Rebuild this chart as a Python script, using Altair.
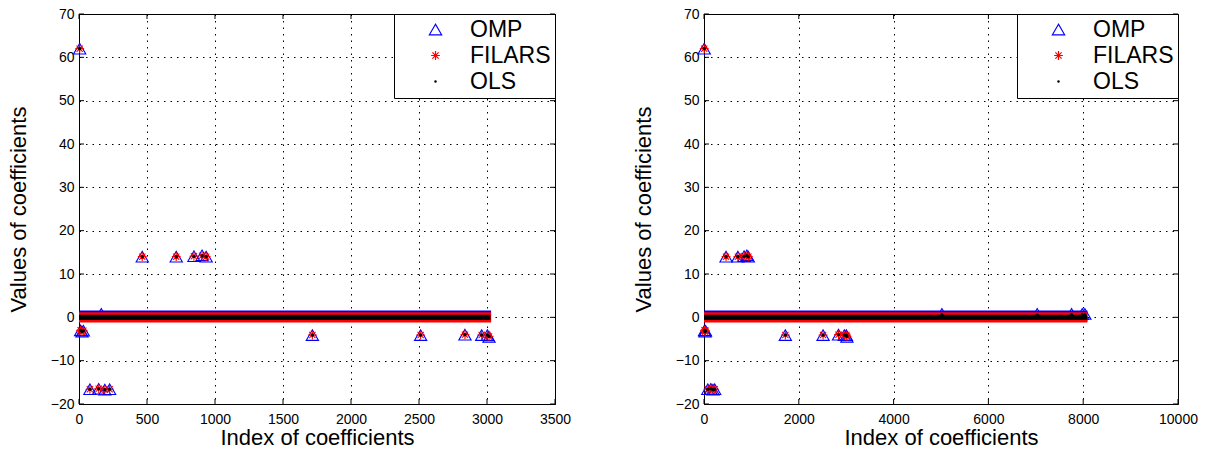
import altair as alt
import pandas as pd

# ---------------- data ----------------
methods = ["OMP", "FILARS", "OLS"]
method_colors = ["#0000ff", "#ff0000", "#000000"]

# large (non-zero) coefficients, same support in both experiments
big_idx = [5, 12, 22, 32, 80, 145, 190, 225, 465, 715, 845, 905, 935,
           1716, 2512, 2838, 2961, 3003, 3015]
omp_big = [62.0, -3.0, -3.3, -3.1, -16.6, -16.5, -16.7, -16.6, 14.0, 14.0,
           14.1, 14.3, 14.0, -4.1, -4.1, -4.0, -4.1, -4.1, -4.5]
filars_big = [62.0, -3.0, -3.3, -3.1, -16.6, -16.5, -16.7, -16.6, 14.0, 14.0,
              14.1, 14.2, 14.0, -4.1, -4.1, -4.0, -4.1, -4.1, -4.4]
ols_big = [62.0, -3.0, -3.3, -3.1, -16.6, -16.5, -16.7, -16.6, 14.0, 14.0,
           14.1, 14.2, 14.0, -4.1, -4.1, -4.0, -4.1, -4.1, -4.4]

# small isolated coefficients just above the zero band
left_small_idx = [164]
left_small_omp = [0.8]
left_small_ols = []
right_small_idx = [5020, 7030, 7755, 7980, 8035]
right_small_omp = [0.8, 0.8, 0.8, 0.8, 0.8]
right_small_ols = [0.6, 0.5, 0.6, 0.6, 0.6]

# dense band of near-zero coefficients (extent of each method's markers)
band_start = [0, 0, 0]
left_band_end = [3030, 3030, 3025]
right_band_end = [8090, 8085, 8080]
band_low = [-1.0, -1.2, -0.6]
band_high = [1.55, 1.15, 0.6]

y_ticks = [-20, -10, 0, 10, 20, 30, 40, 50, 60, 70]
left_x_ticks = [0, 500, 1000, 1500, 2000, 2500, 3000, 3500]
right_x_ticks = [0, 2000, 4000, 6000, 8000, 10000]

# ---------------- styling ----------------
FONT = "Liberation Sans"
AST = ("M0,-0.72L0,0.72M-0.72,0L0.72,0"
       "M-0.51,-0.51L0.51,0.51M-0.51,0.51L0.51,-0.51")
DOT = "M-0.11,0A0.11,0.11,0,1,1,0.11,0A0.11,0.11,0,1,1,-0.11,0Z"
shapes = ["triangle-up", AST, DOT]
SYM = 150
H = 390


def method_rows(m, small_idx, small_omp, small_ols):
    if m == "OMP":
        idx, val = big_idx + small_idx, omp_big + small_omp
    elif m == "FILARS":
        idx, val = big_idx, filars_big
    else:
        idx, val = big_idx + small_idx[:len(small_ols)], ols_big + small_ols
    return pd.DataFrame({"idx": idx, "value": val, "method": [m] * len(idx)})


def panel(xmax, x_ticks, width, band_end, small_idx, small_omp, small_ols):
    xs = alt.Scale(domain=[0, xmax], nice=False, zero=False)
    ys = alt.Scale(domain=[-20, 70], nice=False, zero=False)
    xax = alt.Axis(values=x_ticks, title="Index of coefficients", format="d",
                   labelFlush=False, ticks=False, labelPadding=8, titlePadding=1)
    yax = alt.Axis(values=y_ticks, title="Values of coefficients",
                   labelFlush=False, ticks=False, labelPadding=5, titlePadding=20)
    X = alt.X("idx:Q", scale=xs, axis=xax)
    Y = alt.Y("value:Q", scale=ys, axis=yax)

    color = alt.Color("method:N", scale=alt.Scale(domain=methods, range=method_colors),
                      legend=alt.Legend(title=None, orient="top-right", offset=0,
                                        padding=4, symbolOffset=26, labelOffset=23,
                                        rowPadding=2, labelFontSize=23, labelFont=FONT,
                                        labelColor="black", fillColor="white",
                                        strokeColor="black", symbolSize=SYM,
                                        symbolStrokeWidth=1.2))
    shape = alt.Shape("method:N", scale=alt.Scale(domain=methods, range=shapes))

    layers = []
    for k, m in enumerate(methods):
        band = pd.DataFrame({"idx": [band_start[k]], "idx2": [band_end[k]],
                             "value": [band_low[k]], "value2": [band_high[k]]})
        layers.append(alt.Chart(band).mark_rect(fill=method_colors[k]).encode(
            x=X, x2="idx2:Q", y=Y, y2="value2:Q"))
        layers.append(alt.Chart(method_rows(m, small_idx, small_omp, small_ols)).mark_point(
            filled=False, strokeWidth=1.1, opacity=1, size=SYM
        ).encode(x=X, y=Y, color=color, shape=shape))

    # solid centre of the OLS dots
    layers.append(alt.Chart(method_rows("OLS", small_idx, small_omp, small_ols)).mark_circle(
        color="black", opacity=1, size=10).encode(x=X, y=Y))

    tick_y = pd.DataFrame({"value": y_ticks})
    tick_x = pd.DataFrame({"idx": x_ticks})
    layers += [
        alt.Chart(tick_y).mark_rule(color="black", strokeWidth=1).encode(
            y=Y, x=alt.value(0), x2=alt.value(5)),
        alt.Chart(tick_y).mark_rule(color="black", strokeWidth=1).encode(
            y=Y, x=alt.value(width - 5), x2=alt.value(width)),
        alt.Chart(tick_x).mark_rule(color="black", strokeWidth=1).encode(
            x=X, y=alt.value(H - 5), y2=alt.value(H)),
        alt.Chart(tick_x).mark_rule(color="black", strokeWidth=1).encode(
            x=X, y=alt.value(0), y2=alt.value(5)),
    ]
    return alt.layer(*layers).properties(width=width, height=H)


left = panel(3500, left_x_ticks, 476, left_band_end, left_small_idx,
             left_small_omp, left_small_ols)
right = panel(10000, right_x_ticks, 474, right_band_end, right_small_idx,
              right_small_omp, right_small_ols)

chart = alt.hconcat(left, right, spacing=59).resolve_scale(
    x="independent", color="independent", shape="independent"
).resolve_legend(
    color="independent", shape="independent"
).configure_view(
    stroke="black", strokeWidth=1
).configure_axis(
    domainColor="black", domainWidth=1,
    labelFont=FONT, labelFontSize=14, labelColor="black",
    titleFont=FONT, titleFontSize=22, titleFontWeight="normal", titleColor="black",
    grid=True, gridColor="#000000", gridDash=[1.5, 5], gridWidth=1, gridOpacity=1,
).properties(
    padding={"left": 6, "top": 6, "right": 5, "bottom": 0},
    background="white",
)

chart.save("out.html", embed_options={"renderer": "svg", "actions": False})
